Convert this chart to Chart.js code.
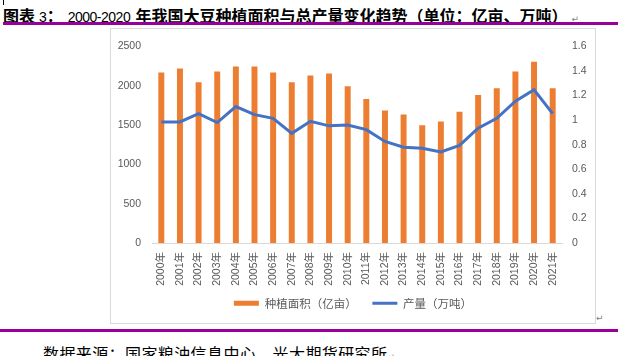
<!DOCTYPE html>
<html>
<head>
<meta charset="utf-8">
<script src="https://cdn.jsdelivr.net/npm/chart.js@4"></script>
<style>
  html, body { margin:0; padding:0; background:#fff; width:618px; height:356px; overflow:hidden; position:relative; }
  .abs { position:absolute; white-space:nowrap; }
  #title { left:3px; top:7px; height:16px; line-height:16px; font-size:16px; color:#000; }
  .cjk { font-family:"Noto Sans CJK SC"; font-weight:bold; }
  .lat { font-family:"Liberation Sans"; font-size:14px; }
  .mark { font-family:"DejaVu Sans"; font-size:9px; color:#808080; font-weight:normal; }
  #topline { left:3px; top:22px; width:615px; height:3px; background:#990099; }
  #botline { left:0; top:329px; width:618px; height:3px; background:#990099; }
  #frame { left:110px; top:28px; width:484px; height:294px; border:1px solid #d9d9d9; }
  #cv { position:absolute; left:111px; top:29px; }
  #source { left:43px; top:345px; font-family:"Noto Sans CJK SC"; font-size:16px; line-height:16px; letter-spacing:0.4px; color:#000; }
  #cursor { left:3px; top:0; width:1px; height:5px; background:#000; }
</style>
</head>
<body>
<div class="abs" id="cursor"></div>
<div class="abs" id="title"><span class="cjk">图表</span><span class="lat"> 3</span><span class="cjk">：</span><span class="lat" style="margin-left:5px;letter-spacing:-0.5px">2000-2020 </span><span class="cjk" style="margin-left:2px">年我国大豆种植面积与总产量变化趋势（单位：亿亩、万吨）</span><span class="mark" style="margin-left:4px">↵</span></div>
<div class="abs" id="topline"></div>
<div class="abs" id="frame"></div>
<canvas id="cv" width="484" height="294"></canvas>
<div class="abs mark" style="left:596px;top:313px;">↵</div>
<div class="abs" id="botline"></div>
<div class="abs" id="source">数据来源：国家粮油信息中心、光大期货研究所<span class="mark">↵</span></div>
<script>
const years = ['2000年','2001年','2002年','2003年','2004年','2005年','2006年','2007年','2008年','2009年','2010年','2011年','2012年','2013年','2014年','2015年','2016年','2017年','2018年','2019年','2020年','2021年'];
const plantedArea = [2167, 2217, 2042, 2180, 2242, 2242, 2167, 2042, 2130, 2155, 1992, 1830, 1683, 1633, 1495, 1543, 1668, 1880, 1968, 2180, 2304, 1968];
const production = [0.985, 0.985, 1.052, 0.980, 1.110, 1.044, 1.014, 0.892, 0.990, 0.953, 0.960, 0.922, 0.826, 0.779, 0.770, 0.740, 0.794, 0.934, 1.014, 1.153, 1.246, 1.052];
const leftTicks = ['0', '500', '1000', '1500', '2000', '2500'];
const rightTicks = ['0', '0.2', '0.4', '0.6', '0.8', '1', '1.2', '1.4', '1.6'];
const areaLabel = '种植面积（亿亩）';
const prodLabel = '产量（万吨）';

const tickFont = { family: '"Liberation Sans", "Noto Sans CJK SC"', size: 10.5 };
const gray = '#595959';

new Chart(document.getElementById('cv'), {
  data: {
    labels: years,
    datasets: [
      { type: 'bar', label: areaLabel, data: plantedArea, backgroundColor: '#ED7D31', borderWidth: 0,
        yAxisID: 'y', order: 2, categoryPercentage: 0.8, barPercentage: 0.4 },
      { type: 'line', label: prodLabel, data: production, borderColor: '#4472C4', backgroundColor: '#4472C4',
        borderWidth: 3, pointRadius: 0, tension: 0, yAxisID: 'y1', order: 1 }
    ]
  },
  options: {
    responsive: false,
    devicePixelRatio: 1,
    animation: false,
    layout: { padding: { top: 13.3, bottom: 4, left: 0, right: 0 } },
    plugins: {
      tooltip: { enabled: false },
      legend: {
        position: 'bottom',
        labels: {
          usePointStyle: true,
          pointStyleWidth: 25,
          boxHeight: 5,
          padding: 10,
          color: gray,
          font: { family: '"Noto Sans CJK SC"', size: 11.5 },
          sort: (a, b) => a.datasetIndex - b.datasetIndex,
          generateLabels: (chart) => {
            const items = Chart.defaults.plugins.legend.labels.generateLabels(chart);
            items.forEach(it => {
              if (it.datasetIndex === 0) { it.pointStyle = 'rect'; it.lineWidth = 0; it.text = it.text + '　'; }
              else { it.pointStyle = 'line'; it.lineWidth = 3; it.strokeStyle = '#4472C4'; }
            });
            return items;
          }
        }
      }
    },
    scales: {
      x: {
        grid: { display: false, drawTicks: false },
        border: { display: true, color: '#d9d9d9', width: 1 },
        ticks: { autoSkip: false, minRotation: 90, maxRotation: 90, padding: 9, color: gray, font: tickFont },
        afterFit: (s) => { s.height = 44.5; }
      },
      y: {
        position: 'left', min: 0, max: 2500,
        grid: { display: false, drawTicks: false },
        border: { display: false },
        ticks: { stepSize: 500, padding: 11, color: gray, font: tickFont,
                 callback: (v, i) => leftTicks[i] },
        afterFit: (s) => { s.width = 41; }
      },
      y1: {
        position: 'right', min: 0, max: 1.6,
        grid: { display: false, drawTicks: false },
        border: { display: false },
        ticks: { stepSize: 0.2, padding: 10, color: gray, font: tickFont,
                 callback: (v, i) => rightTicks[i] },
        afterFit: (s) => { s.width = 33; }
      }
    }
  }
});
</script>
</body>
</html>
